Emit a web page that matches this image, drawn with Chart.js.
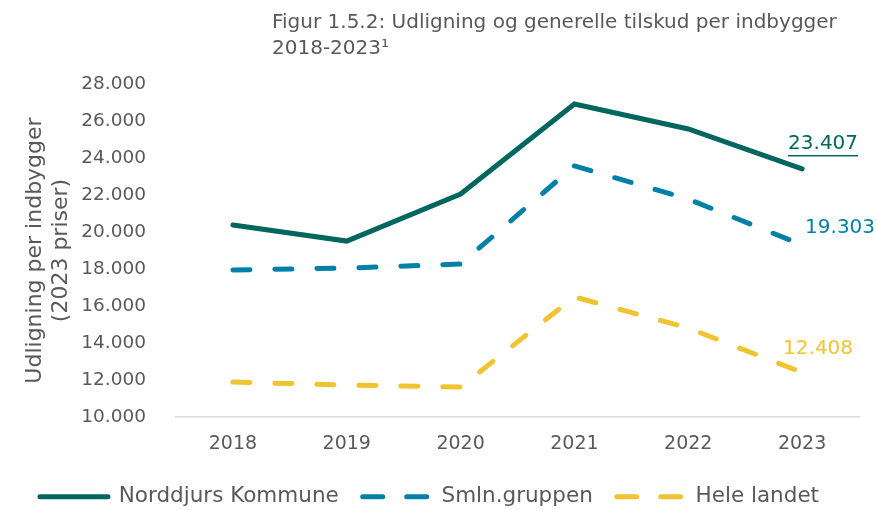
<!DOCTYPE html>
<html>
<head>
<meta charset="utf-8">
<script src="https://cdn.jsdelivr.net/npm/chart.js@4"></script>
<style>
  html, body { margin: 0; padding: 0; background: #fff; }
  #wrap { width: 877px; height: 510px; position: relative; }
</style>
</head>
<body>
<div id="wrap"><canvas id="chart"></canvas></div>
<script>
const years = ['2018', '2019', '2020', '2021', '2022', '2023'];
const norddjurs = [20380, 19510, 22050, 26920, 25570, 23407];
const smln = [17950, 18050, 18270, 23570, 21780, 19303];
const heleLandet = [11890, 11730, 11620, 16490, 14810, 12408];
const seriesNames = ['Norddjurs Kommune', 'Smln.gruppen', 'Hele landet'];
const titleLines = ['Figur 1.5.2: Udligning og generelle tilskud per indbygger', '2018-2023\u00B9'];
const yTitle = ['Udligning per indbygger', '(2023 priser)'];

const FONT = "'DejaVu Sans', sans-serif";
const GREY = '#595959';
const colors = ['#00665E', '#0080A7', '#F0C330'];

const fmt = v => Math.round(v).toString().replace(/\B(?=(\d{3})+(?!\d))/g, '.');

// title drawn left-aligned at a fixed spot, like the original
const titlePlugin = {
    id: 'figTitle',
    afterDraw(chart) {
        const ctx = chart.ctx;
        ctx.save();
        ctx.fillStyle = GREY;
        ctx.font = '20px ' + FONT;
        ctx.textBaseline = 'middle';
        ctx.textAlign = 'left';
        titleLines.forEach((t, i) => ctx.fillText(t, 272, 23 + i * 26));
        ctx.restore();
    }
};

// value labels at the last point of each line
const endLabels = {
    id: 'endLabels',
    afterDatasetsDraw(chart) {
        const ctx = chart.ctx;
        const offs = [[21, -25], [38, -17], [16, -24]];
        ctx.save();
        ctx.font = '20px ' + FONT;
        ctx.textAlign = 'center';
        ctx.textBaseline = 'middle';
        chart.data.datasets.forEach((ds, i) => {
            const meta = chart.getDatasetMeta(i);
            const last = meta.data[meta.data.length - 1];
            const txt = fmt(ds.data[ds.data.length - 1]);
            const x = last.x + offs[i][0], y = last.y + offs[i][1];
            ctx.fillStyle = colors[i];
            ctx.fillText(txt, x, y);
            if (i === 0) {
                const w = ctx.measureText(txt).width;
                ctx.fillRect(x - w / 2, y + 11, w, 1.5);
            }
        });
        ctx.restore();
    }
};

const legendHeight = {
    id: 'legendHeight',
    beforeInit(chart) {
        const orig = chart.legend.fit;
        chart.legend.fit = function () {
            orig.call(this);
            this.height = 48;
        };
    }
};

function lineSet(label, data, color, dash) {
    return {
        label: label,
        data: data,
        borderColor: color,
        backgroundColor: color,
        borderWidth: 5,
        borderDash: dash,
        borderCapStyle: 'round',
        borderJoinStyle: 'miter',
        pointRadius: 0,
        tension: 0,
        fill: false
    };
}

new Chart(document.getElementById('chart'), {
    type: 'line',
    data: {
        labels: years,
        datasets: [
            lineSet(seriesNames[0], norddjurs, colors[0], []),
            lineSet(seriesNames[1], smln, colors[1], [17, 25]),
            lineSet(seriesNames[2], heleLandet, colors[2], [17, 25])
        ]
    },
    options: {
        responsive: true,
        maintainAspectRatio: false,
        animation: false,
        layout: { padding: { top: 84, right: 18, left: 0, bottom: 0 } },
        plugins: {
            title: { display: false },
            tooltip: { enabled: false },
            legend: {
                position: 'bottom',
                labels: {
                    usePointStyle: true,
                    pointStyle: 'line',
                    pointStyleWidth: 68,
                    color: GREY,
                    font: { family: FONT, size: 21.5 },
                    padding: 24,
                    generateLabels(chart) {
                        return chart.data.datasets.map((ds, i) => ({
                            text: ds.label,
                            datasetIndex: i,
                            fillStyle: ds.borderColor,
                            strokeStyle: ds.borderColor,
                            fontColor: GREY,
                            lineWidth: 5,
                            lineDash: ds.borderDash.length ? [20, 24] : [],
                            lineCap: 'round',
                            pointStyle: 'line',
                            hidden: false
                        }));
                    }
                }
            }
        },
        scales: {
            x: {
                offset: true,
                grid: { display: false, drawTicks: false },
                border: { display: true, color: '#D9D9D9', width: 1.5 },
                ticks: { color: GREY, font: { family: FONT, size: 19 }, padding: 16 },
                afterFit(scale) { scale.height = 45; }
            },
            y: {
                min: 10000,
                max: 28000,
                grid: { display: false, drawTicks: false },
                border: { display: false },
                ticks: {
                    stepSize: 2000,
                    color: GREY,
                    padding: 30,
                    font: { family: FONT, size: 18.5 },
                    callback: v => fmt(v)
                },
                title: {
                    display: true,
                    text: yTitle,
                    color: GREY,
                    font: { family: FONT, size: 22, lineHeight: 1.2 },
                    padding: { top: 22, bottom: 0 }
                },
                afterFit(scale) { scale.width = 176; }
            }
        }
    },
    plugins: [titlePlugin, endLabels, legendHeight]
});
</script>
</body>
</html>
